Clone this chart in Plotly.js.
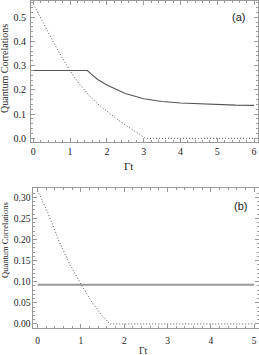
<!DOCTYPE html>
<html><head><meta charset="utf-8">
<script src="https://cdn.plot.ly/plotly-3.0.1.min.js"></script>
<style>html,body{margin:0;padding:0;background:#fff}#c{width:259px;height:355px}</style>
</head><body><div id="c"></div>
<script>
// Panel (a)
const tA_solid = [0, 0.5, 1.0, 1.47, 1.55, 1.75, 2.0, 2.5, 3.0, 3.5, 4.0, 4.5, 5.0, 5.5, 6.0];
const qA_solid = [0.28, 0.28, 0.28, 0.28, 0.268, 0.243, 0.22, 0.185, 0.163, 0.152, 0.146, 0.142, 0.139, 0.137, 0.136];
const tA_dot = [0, 0.25, 0.5, 0.75, 1.0, 1.25, 1.5, 1.75, 2.0, 2.25, 2.5, 2.75, 3.0, 3.05, 4.0, 5.0, 6.0];
const qA_dot = [0.555, 0.48, 0.41, 0.342, 0.278, 0.225, 0.18, 0.142, 0.11, 0.082, 0.055, 0.03, 0.005, 0, 0, 0, 0];
// Panel (b)
const tB_solid = [0, 1, 2, 3, 4, 5];
const qB_solid = [0.093, 0.093, 0.093, 0.093, 0.093, 0.093];
const tB_dot = [0, 0.25, 0.5, 0.75, 1.0, 1.25, 1.5, 1.67, 2, 3, 4, 5];
const qB_dot = [0.316, 0.26, 0.195, 0.14, 0.095, 0.052, 0.018, 0, 0, 0, 0, 0];
const xTitle = 'Γt';
const yTitle = 'Quantum Correlations';

const serif = 'Liberation Serif';
const frame = '#9a9a9a';
function ax(extra){
  return Object.assign({
    showgrid:false, zeroline:false, showline:true, linecolor:frame, linewidth:1,
    mirror:'allticks', ticks:'inside', ticklen:4, tickcolor:frame, tickwidth:1,
    tickfont:{family:serif, size:10, color:'#222'}, automargin:false
  }, extra);
}
const traces = [
  {x:tA_solid, y:qA_solid, xaxis:'x', yaxis:'y', mode:'lines', line:{color:'#555', width:1.1}, hoverinfo:'skip'},
  {x:tA_dot, y:qA_dot, xaxis:'x', yaxis:'y', mode:'lines', line:{color:'#555', width:1, dash:'1px,2px'}, hoverinfo:'skip'},
  {x:tB_solid, y:qB_solid, xaxis:'x2', yaxis:'y2', mode:'lines', line:{color:'#999', width:2}, hoverinfo:'skip'},
  {x:tB_dot, y:qB_dot, xaxis:'x2', yaxis:'y2', mode:'lines', line:{color:'#555', width:1, dash:'1px,2px'}, hoverinfo:'skip'}
];
function ann(text, px, py, size, fam, angle){
  return {text:text, xref:'paper', yref:'paper', x:px/259, y:1-py/355, xanchor:'center', yanchor:'middle',
    textangle:angle||0, showarrow:false, font:{family:fam, size:size, color:'#222'}};
}
const layout = {
  width:259, height:355, margin:{l:0,r:0,t:0,b:0}, showlegend:false,
  paper_bgcolor:'#fff', plot_bgcolor:'#fff',
  xaxis: ax({domain:[31/259, 258/259], anchor:'y', range:[-0.063, 6.106], dtick:1, tick0:0,
    minor:{ticks:'inside', ticklen:2, dtick:0.2, tick0:0, tickcolor:frame}}),
  yaxis: ax({domain:[1-142/355, 1-1/355], anchor:'x', range:[-0.0153, 0.567], dtick:0.1, tick0:0, tickformat:'.1f',
    ticklabelstandoff:2,
    minor:{ticks:'inside', ticklen:2, dtick:0.02, tick0:0, tickcolor:frame}}),
  xaxis2: ax({domain:[33.3/259, 258.5/259], anchor:'y2', range:[-0.10, 5.10], dtick:1, tick0:0,
    tickfont:{family:serif, size:9.5, color:'#222'}, ticklabelstandoff:4,
    minor:{ticks:'inside', ticklen:2, dtick:0.2, tick0:0, tickcolor:frame}}),
  yaxis2: ax({domain:[1-327.7/355, 1-188.3/355], anchor:'x2', range:[-0.0088, 0.3213], dtick:0.05, tick0:0, tickformat:'.2f',
    tickfont:{family:serif, size:9.5, color:'#222'},
    minor:{ticks:'inside', ticklen:2, dtick:0.01, tick0:0, tickcolor:frame}}),
  annotations:[
    ann('(a)', 238, 17, 11, 'Liberation Sans'),
    ann('(b)', 240, 206, 11, 'Liberation Sans'),
    ann(xTitle, 128, 166, 11, serif),
    ann(xTitle, 143, 350.5, 9.5, serif),
    ann(yTitle, 5, 69, 10, serif, -90),
    ann(yTitle, 5, 240, 8.5, serif, -90)
  ]
};
Plotly.newPlot('c', traces, layout, {staticPlot:true, displayModeBar:false});
</script></body></html>
